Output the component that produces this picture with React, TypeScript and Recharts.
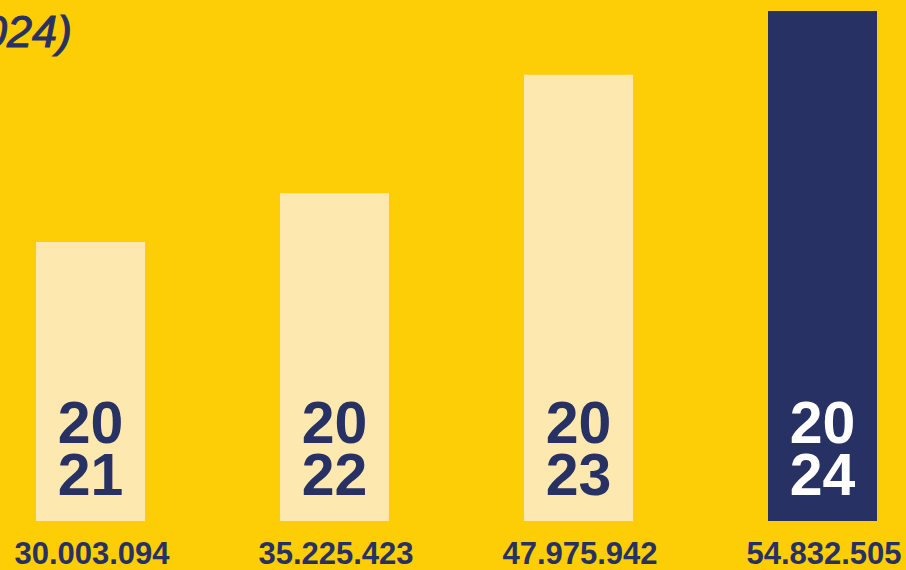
import { BarChart, Bar, XAxis, YAxis, Cell, LabelList } from 'recharts'

const years = ['2021', '2022', '2023', '2024']
const totals = [30003094, 35225423, 47975942, 54832505]

const YELLOW = '#FDCD06'
const CREAM = '#FDE9B0'
const NAVY = '#283163'
const FONT = '"Liberation Sans", Arial, Helvetica, sans-serif'

const data = years.map((year, i) => ({ year, total: totals[i] }))

const fmt = (n: number) => String(n).replace(/\B(?=(\d{3})+(?!\d))/g, '.')

function ValueTick({ x, y, payload }: any) {
  const i = years.indexOf(payload.value)
  return (
    <text x={x + 2} y={y + 43} textAnchor="middle" fontSize={31} fontWeight={700} fill={NAVY} fontFamily={FONT}>
      {fmt(totals[i])}
    </text>
  )
}

function YearLabel({ x, y, width, height, index }: any) {
  const cx = x + width / 2
  const bottom = y + height
  const yr = years[index]
  const fill = index === years.length - 1 ? '#ffffff' : NAVY
  return (
    <g fontFamily={FONT} fontSize={59} fontWeight={700} fill={fill} textAnchor="middle">
      <text x={cx} y={bottom - 78}>{yr.slice(0, 2)}</text>
      <text x={cx} y={bottom - 26}>{yr.slice(2)}</text>
    </g>
  )
}

export default function App() {
  return (
    <div style={{ position: 'fixed', left: 0, top: 0, width: 906, height: 570, overflow: 'hidden', background: YELLOW }}>
      <div
        style={{
          position: 'absolute',
          right: 834,
          top: 8,
          whiteSpace: 'nowrap',
          fontFamily: FONT,
          fontStyle: 'italic',
          fontSize: 45,
          lineHeight: '48px',
          color: NAVY,
          WebkitTextStroke: `1px ${NAVY}`,
        }}
      >
        (2021-2024)
      </div>
      <div style={{ position: 'absolute', left: -32, top: 0 }}>
        <BarChart width={976} height={570} data={data} margin={{ top: 11, right: 0, left: 0, bottom: 0 }} barCategoryGap={0}>
          <XAxis dataKey="year" height={49} axisLine={false} tickLine={false} tickSize={0} tickMargin={0} tick={<ValueTick />} interval={0} />
          <YAxis hide domain={[0, 54832505]} />
          <Bar dataKey="total" barSize={109} isAnimationActive={false}>
            {data.map((d, i) => (
              <Cell key={d.year} fill={i === data.length - 1 ? NAVY : CREAM} />
            ))}
            <LabelList dataKey="year" content={<YearLabel />} />
          </Bar>
        </BarChart>
      </div>
    </div>
  )
}
